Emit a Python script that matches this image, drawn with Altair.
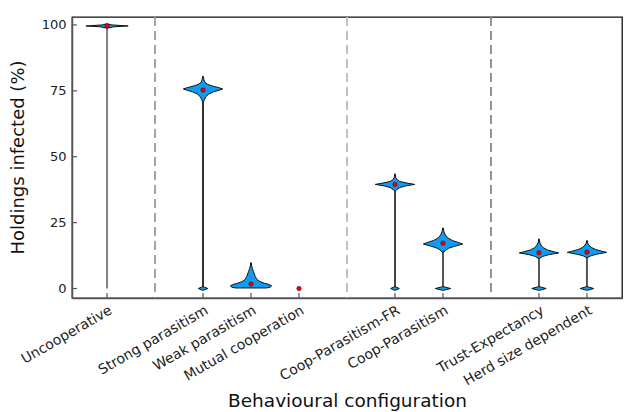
import altair as alt
import pandas as pd

# ---------------- data ----------------
categories = ["Uncooperative", "Strong parasitism", "Weak parasitism", "Mutual cooperation",
              "Coop-Parasitism-FR", "Coop-Parasitism", "Trust-Expectancy", "Herd size dependent"]
positions = [1, 3, 4, 5, 7, 8, 10, 11]
medians = [99.6, 75.3, 1.7, 0.0, 39.5, 17.2, 13.6, 13.8]
separators = [2, 6, 9]
separator_colors = ["#999999", "#bbbbbb", "#888888"]
y_ticks = [0, 25, 50, 75, 100]

# violin outlines: y levels and half-widths (x units)
unco_y = [98.8, 99.3, 99.6, 100.0, 100.4]
unco_hw = [0.01, 0.15, 0.44, 0.10, 0.01]
strong_y = [70.8, 71.8, 72.8, 73.8, 74.6, 75.2, 75.7, 76.2, 76.8, 77.4, 78.2, 79.2, 80.5]
strong_hw = [0.01, 0.03, 0.06, 0.12, 0.22, 0.33, 0.41, 0.33, 0.20, 0.10, 0.04, 0.02, 0.005]
weak_y = [0.2, 0.5, 1.0, 1.5, 2.0, 2.7, 3.5, 4.5, 5.5, 6.5, 7.5, 8.5, 9.8]
weak_hw = [0.32, 0.40, 0.43, 0.38, 0.28, 0.18, 0.12, 0.09, 0.07, 0.05, 0.03, 0.015, 0.005]
cfr_y = [37.0, 37.6, 38.3, 38.9, 39.5, 40.0, 40.6, 41.3, 42.2, 43.5]
cfr_hw = [0.01, 0.04, 0.10, 0.22, 0.41, 0.25, 0.10, 0.04, 0.015, 0.005]
cp_y = [13.8, 14.5, 15.3, 16.0, 16.5, 16.9, 17.4, 18.2, 19.2, 20.3, 21.5, 23.0]
cp_hw = [0.02, 0.05, 0.12, 0.24, 0.34, 0.41, 0.33, 0.20, 0.10, 0.05, 0.02, 0.005]
trust_y = [11.5, 12.2, 12.8, 13.2, 13.5, 13.9, 14.6, 15.5, 16.5, 17.6, 18.8]
trust_hw = [0.02, 0.08, 0.20, 0.32, 0.41, 0.32, 0.18, 0.09, 0.04, 0.015, 0.005]
herd_y = [11.8, 12.4, 13.0, 13.4, 13.7, 14.1, 14.8, 15.6, 16.5, 17.3, 18.2]
herd_hw = [0.02, 0.08, 0.20, 0.32, 0.41, 0.32, 0.18, 0.09, 0.04, 0.015, 0.005]

# small lower mode at 0
blob_pos = [3, 7, 8, 10, 11]
blob_hw = [0.10, 0.09, 0.16, 0.15, 0.14]
blob_y = [-0.7, 0.0, 0.7]
blob_shape = [0.05, 1.0, 0.05]

# thin stems from 0 up to the violin body
stem_pos = [1, 3, 7, 8, 10, 11]
stem_top = [99.0, 70.8, 37.0, 13.8, 11.5, 11.8]
stem_colors = ["#808080", "#333333", "#444444", "#555555", "#555555", "#555555"]

violins = [(1, unco_y, unco_hw), (3, strong_y, strong_hw), (4, weak_y, weak_hw),
           (7, cfr_y, cfr_hw), (8, cp_y, cp_hw), (10, trust_y, trust_hw), (11, herd_y, herd_hw)]

shapes = []
for p, ys, hws in violins:
    shapes.append(pd.DataFrame({"y": ys, "lo": [p - w for w in hws], "hi": [p + w for w in hws]}))
for p, w in zip(blob_pos, blob_hw):
    shapes.append(pd.DataFrame({"y": blob_y, "lo": [p - w * s for s in blob_shape],
                                "hi": [p + w * s for s in blob_shape]}))

med_df = pd.DataFrame({"pos": positions, "med": medians, "cat": categories})
stem_df = pd.DataFrame({"pos": stem_pos, "top": stem_top, "bot": [0.0] * len(stem_pos),
                        "col": stem_colors})
sep_df = pd.DataFrame({"pos": separators, "col": separator_colors})
ytick_df = pd.DataFrame({"v": y_ticks})
xtick_df = pd.DataFrame({"pos": positions})

label_expr = " : ".join(f"datum.value == {p} ? '{c}'" for p, c in zip(positions, categories)) + " : ''"

FONT = "DejaVu Sans"
xscale = alt.Scale(domain=[0.27, 11.73], nice=False, zero=False)
yscale = alt.Scale(domain=[-3.6, 103], nice=False, zero=False)

x_axis = alt.Axis(values=positions, labelExpr=label_expr, labelAngle=330, labelAlign="right",
                  labelBaseline="top", labelPadding=5, labelFontSize=14, labelColor="#222222",
                  labelFont=FONT, ticks=False, grid=False, domainColor="#555555", domainWidth=1.5,
                  title="Behavioural configuration", titleFont=FONT, titleFontSize=18.5,
                  titleFontWeight="normal", titleColor="#111111", titleY=102, titleBaseline="middle",
                  labelOverlap=False, labelBound=False, labelFlush=False)
y_axis = alt.Axis(values=y_ticks, labelFontSize=13, labelColor="#222222", labelFont=FONT,
                  labelPadding=6, ticks=False, grid=False, domainColor="#555555", domainWidth=1.5,
                  title="Holdings infected (%)", titleFont=FONT, titleFontSize=18,
                  titleFontWeight="normal", titleColor="#111111", titleX=-54, titleY=140,
                  titleAngle=270, titleBaseline="middle", titleAlign="center")

base_axes = alt.Chart(med_df).mark_point(opacity=0).encode(
    x=alt.X("pos:Q", scale=xscale, axis=x_axis),
    y=alt.Y("med:Q", scale=yscale, axis=y_axis),
)

seps = alt.Chart(sep_df).mark_rule(strokeDash=[9, 5], strokeWidth=1.8).encode(
    x=alt.X("pos:Q", scale=xscale),
    y=alt.value(0), y2=alt.value(281),
    color=alt.Color("col:N", scale=None),
)

stems = alt.Chart(stem_df).mark_rule(strokeWidth=2).encode(
    x=alt.X("pos:Q", scale=xscale),
    y=alt.Y("bot:Q", scale=yscale), y2="top:Q",
    color=alt.Color("col:N", scale=None),
)

area_layers = [
    alt.Chart(s).mark_area(orient="horizontal", color="#0f9bf2", stroke="#111111",
                           strokeWidth=1, fillOpacity=1).encode(
        x=alt.X("lo:Q", scale=xscale), x2="hi:Q",
        y=alt.Y("y:Q", scale=yscale),
    )
    for s in shapes
]

dots = alt.Chart(med_df).mark_circle(color="#e8000b", size=20, opacity=1,
                                     stroke="#550000", strokeWidth=0.5).encode(
    x=alt.X("pos:Q", scale=xscale),
    y=alt.Y("med:Q", scale=yscale),
)

yticks = alt.Chart(ytick_df).mark_rule(color="#555555", strokeWidth=1.2).encode(
    y=alt.Y("v:Q", scale=yscale), x=alt.value(0), x2=alt.value(5),
)
xticks = alt.Chart(xtick_df).mark_rule(color="#555555", strokeWidth=1.2).encode(
    x=alt.X("pos:Q", scale=xscale), y=alt.value(281), y2=alt.value(276),
)

chart = alt.layer(base_axes, seps, stems, *area_layers, dots, yticks, xticks).properties(
    width=550, height=281,
    autosize=alt.AutoSizeParams(type="none"),
    padding={"left": 72, "top": 17, "right": 8, "bottom": 114},
    background="white",
).configure_view(stroke="#111111", strokeWidth=1.3)

chart.save("out.html", embed_options={"renderer": "svg", "actions": False})
